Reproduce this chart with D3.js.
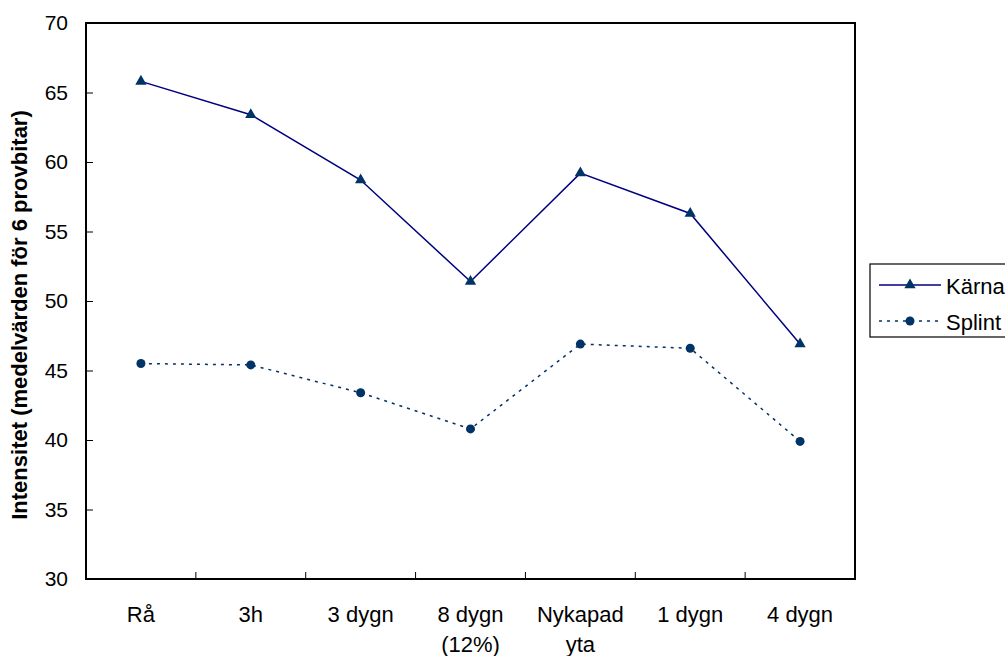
<!DOCTYPE html>
<html>
<head>
<meta charset="utf-8">
<script src="https://cdn.jsdelivr.net/npm/d3@7"></script>
<style>
  body { margin: 0; background: #fff; }
  svg { font-family: "Liberation Sans", Arial, sans-serif; }
</style>
</head>
<body>
<svg id="chart" width="1005" height="656"></svg>
<script>
// Data
const categories = ["Rå", "3h", "3 dygn", "8 dygn\n(12%)", "Nykapad\nyta", "1 dygn", "4 dygn"];
const karna = [65.8, 63.4, 58.7, 51.4, 59.2, 56.3, 46.9];
const splint = [45.5, 45.4, 43.4, 40.8, 46.9, 46.6, 39.9];
const yTicks = [30, 35, 40, 45, 50, 55, 60, 65, 70];

const margin = { top: 23, right: 150, bottom: 77, left: 86 };
const width = 855 - margin.left;
const height = 579 - margin.top;

const svg = d3.select("#chart");
const g = svg.append("g")
    .attr("transform", "translate(" + margin.left + "," + margin.top + ")");

const x = d3.scaleBand().domain(categories).range([0, width]);
const y = d3.scaleLinear().domain([30, 70]).range([height, 0]);

// Plot frame
g.append("rect")
    .attr("width", width).attr("height", height)
    .attr("fill", "none").attr("stroke", "#000").attr("stroke-width", 2);

// Y axis
const yAxis = g.append("g")
    .call(d3.axisLeft(y).tickValues(yTicks).tickSize(-7).tickPadding(18));
yAxis.select(".domain").remove();
yAxis.selectAll("line").attr("stroke", "#000");
yAxis.selectAll("text").attr("font-size", 21).attr("fill", "#000")
    .attr("font-family", "Liberation Sans, Arial, sans-serif");

// X axis: ticks between categories
const xAxis = g.append("g").attr("transform", "translate(0," + height + ")");
xAxis.selectAll("line")
    .data(categories.slice(1))
    .enter().append("line")
    .attr("x1", d => x(d)).attr("x2", d => x(d))
    .attr("y1", 0).attr("y2", -7)
    .attr("stroke", "#000");

xAxis.selectAll("text")
    .data(categories)
    .enter().append("text")
    .attr("x", d => x(d) + x.bandwidth() / 2)
    .attr("y", 43)
    .attr("text-anchor", "middle")
    .attr("font-size", 22)
    .each(function(d) {
        const lines = d.split("\n");
        d3.select(this).selectAll("tspan")
            .data(lines)
            .enter().append("tspan")
            .attr("x", x(d) + x.bandwidth() / 2)
            .attr("dy", (l, i) => i === 0 ? 0 : 30)
            .text(l => l);
    });

// Y axis title
g.append("text")
    .attr("transform", "rotate(-90)")
    .attr("x", -(315 - margin.top))
    .attr("y", -margin.left + 27)
    .attr("text-anchor", "middle")
    .attr("font-size", 22)
    .attr("font-weight", "bold")
    .text("Intensitet (medelvärden för 6 provbitar)");

const cx = (d, i) => x(categories[i]) + x.bandwidth() / 2;

// Kärna line
g.append("path")
    .datum(karna)
    .attr("fill", "none")
    .attr("stroke", "#000080")
    .attr("stroke-width", 1.5)
    .attr("d", d3.line().x(cx).y(d => y(d)));

g.selectAll(".tri")
    .data(karna)
    .enter().append("path")
    .attr("class", "tri")
    .attr("transform", (d, i) => "translate(" + cx(d, i) + "," + y(d) + ")")
    .attr("d", d3.symbol().type(d3.symbolTriangle).size(55))
    .attr("fill", "#003366");

// Splint line
g.append("path")
    .datum(splint)
    .attr("fill", "none")
    .attr("stroke", "#003366")
    .attr("stroke-width", 1.5)
    .attr("stroke-dasharray", "3,5")
    .attr("d", d3.line().x(cx).y(d => y(d)));

g.selectAll(".dot")
    .data(splint)
    .enter().append("circle")
    .attr("class", "dot")
    .attr("cx", cx)
    .attr("cy", d => y(d))
    .attr("r", 4.5)
    .attr("fill", "#003366");

// Legend
const legend = svg.append("g").attr("transform", "translate(870,264)");
legend.append("rect")
    .attr("width", 150).attr("height", 73)
    .attr("fill", "#fff").attr("stroke", "#000").attr("stroke-width", 1.2);

legend.append("line")
    .attr("x1", 9).attr("x2", 71).attr("y1", 21).attr("y2", 21)
    .attr("stroke", "#000080").attr("stroke-width", 1.5);
legend.append("path")
    .attr("transform", "translate(40,21)")
    .attr("d", d3.symbol().type(d3.symbolTriangle).size(55))
    .attr("fill", "#003366");
legend.append("text").attr("x", 76).attr("y", 30).attr("font-size", 22).text("Kärna");

legend.append("line")
    .attr("x1", 9).attr("x2", 71).attr("y1", 57).attr("y2", 57)
    .attr("stroke", "#003366").attr("stroke-width", 1.5)
    .attr("stroke-dasharray", "3,5");
legend.append("circle")
    .attr("cx", 40).attr("cy", 57).attr("r", 4.5)
    .attr("fill", "#003366");
legend.append("text").attr("x", 76).attr("y", 66).attr("font-size", 22).text("Splint");
</script>
</body>
</html>
